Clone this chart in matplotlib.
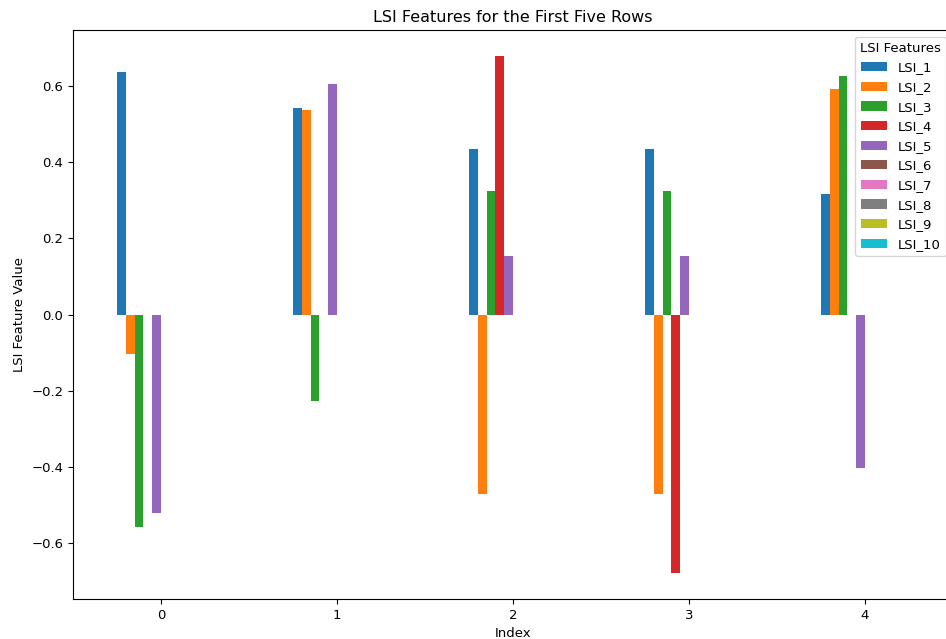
import matplotlib
matplotlib.use("Agg")
import matplotlib.pyplot as plt
import numpy as np
import pandas as pd

index = [0, 1, 2, 3, 4]
lsi_1 = [0.637, 0.542, 0.434, 0.434, 0.316]
lsi_2 = [-0.103, 0.537, -0.471, -0.471, 0.592]
lsi_3 = [-0.558, -0.226, 0.324, 0.324, 0.626]
lsi_4 = [0.0, 0.0, 0.679, -0.679, 0.0]
lsi_5 = [-0.521, 0.605, 0.153, 0.153, -0.403]
lsi_6 = [0.0, 0.0, 0.0, 0.0, 0.0]
lsi_7 = [0.0, 0.0, 0.0, 0.0, 0.0]
lsi_8 = [0.0, 0.0, 0.0, 0.0, 0.0]
lsi_9 = [0.0, 0.0, 0.0, 0.0, 0.0]
lsi_10 = [0.0, 0.0, 0.0, 0.0, 0.0]

df = pd.DataFrame({
    "LSI_1": lsi_1, "LSI_2": lsi_2, "LSI_3": lsi_3, "LSI_4": lsi_4, "LSI_5": lsi_5,
    "LSI_6": lsi_6, "LSI_7": lsi_7, "LSI_8": lsi_8, "LSI_9": lsi_9, "LSI_10": lsi_10,
}, index=index)

fig = plt.figure(figsize=(9.46, 6.39), dpi=100)
ax = fig.add_axes([73/946, 1 - 599/639, 880/946, (599 - 30)/639])
df.plot(kind="bar", ax=ax, rot=0)
ax.set_title("LSI Features for the First Five Rows", fontsize=11.5)
ax.set_xlabel("Index", fontsize=9.5)
ax.set_ylabel("LSI Feature Value", fontsize=9.5)
ax.tick_params(labelsize=9.5)
ax.legend(title="LSI Features", fontsize=9.5, title_fontsize=9.5, loc="upper right")
fig.savefig("out.png", dpi=100)
